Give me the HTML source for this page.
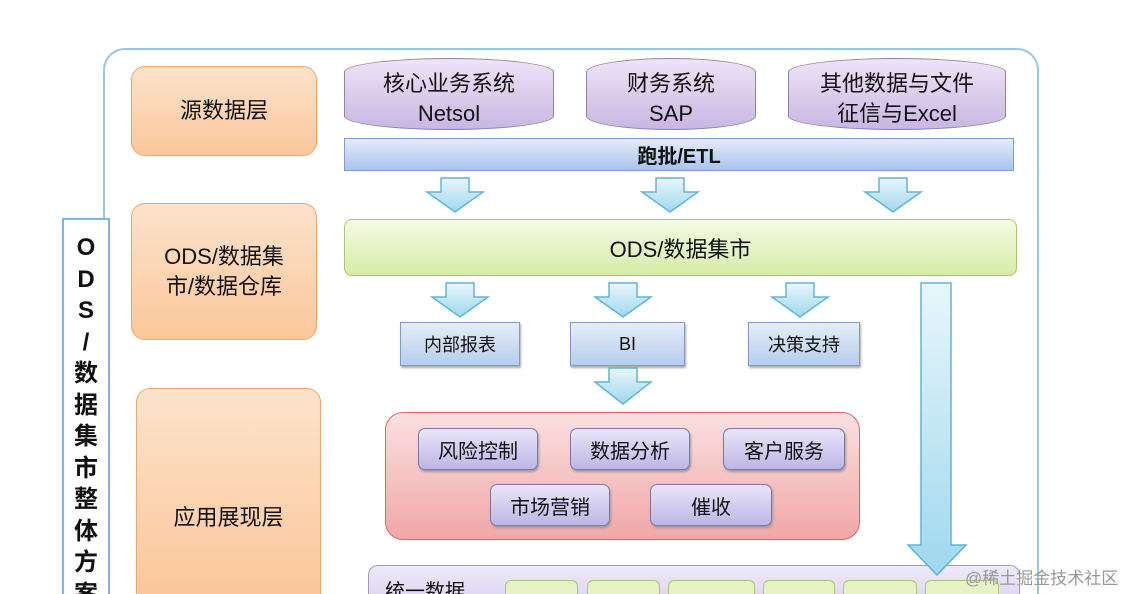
<!DOCTYPE html>
<html style="width:1132px;height:594px;overflow:hidden"><head><meta charset="utf-8"><style>
body{margin:0;width:1132px;height:594px;overflow:hidden;background:#fff;position:relative;font-family:"Liberation Sans","Noto Sans CJK SC",sans-serif;}
.a{position:absolute;box-sizing:border-box;display:flex;align-items:center;justify-content:center;text-align:center;color:#111;}
.lay{border:1.5px solid #f0a868;border-radius:14px;background:linear-gradient(#fde3cc,#fbc79a);font-size:22px;line-height:1.35}
.cyl{background:linear-gradient(#efe4f8,#c9b6e2);border:1.5px solid #8e84a6;border-radius:50%/14px;font-size:22px;line-height:1.35;padding-top:10px}
.btn{background:linear-gradient(#e9e6fa,#bdb6e6);border:1.5px solid #7d78a6;border-radius:7px;font-size:20px;box-shadow:1px 2px 2px #999}
.box{background:linear-gradient(#e6eef9,#b6cdec);border:1.5px solid #7d9cc8;font-size:18px;box-shadow:1px 2px 2px #aaa}
.clip{position:absolute;left:0;top:0;width:1132px;height:594px;overflow:hidden}
.g{position:absolute;top:580px;height:16px;background:#e6f1c4;border:1px solid #a8c870;border-bottom:none;border-radius:6px 6px 0 0;box-sizing:border-box}
</style></head><body><div class="clip">
<div class="a" style="left:103px;top:48px;width:936px;height:548px;border:2px solid #9cc6e6;border-bottom:none;border-radius:22px 22px 0 0"></div>
<div style="position:absolute;left:62px;top:218px;width:48px;height:378px;box-sizing:border-box;border:2px solid #7fb6e0;border-bottom:none;background:#fff;text-align:center;font-size:24px;line-height:31.5px;font-weight:bold;padding-top:12px;color:#111">O<br>D<br>S<br>/<br>数<br>据<br>集<br>市<br>整<br>体<br>方<br>案</div>
<div class="a lay" style="left:131px;top:66px;width:186px;height:90px">源数据层</div>
<div class="a lay" style="left:131px;top:203px;width:186px;height:137px">ODS/数据集<br>市/数据仓库</div>
<div class="a lay" style="left:136px;top:388px;width:185px;height:208px;border-bottom:none;border-radius:14px 14px 0 0;padding-top:50px">应用展现层</div>
<div class="a cyl" style="left:344px;top:58px;width:210px;height:72px">核心业务系统<br>Netsol</div>
<div class="a cyl" style="left:586px;top:58px;width:170px;height:72px">财务系统<br>SAP</div>
<div class="a cyl" style="left:788px;top:58px;width:218px;height:72px">其他数据与文件<br>征信与Excel</div>
<div class="a" style="left:344px;top:138px;width:670px;height:33px;background:linear-gradient(#e4ecfa,#a9c3ec);border:1.5px solid #7f9fd2;font-size:20px;font-weight:bold">跑批/ETL</div>
<div class="a" style="left:344px;top:219px;width:673px;height:57px;border-radius:8px;background:linear-gradient(#f5fbe4,#d6eca6);border:1.5px solid #a8c870;font-size:22px">ODS/数据集市</div>
<div class="a box" style="left:400px;top:322px;width:120px;height:44px">内部报表</div>
<div class="a box" style="left:570px;top:322px;width:115px;height:44px">BI</div>
<div class="a box" style="left:748px;top:322px;width:112px;height:44px">决策支持</div>
<div class="a" style="left:385px;top:412px;width:475px;height:128px;border-radius:18px;background:linear-gradient(#fbe0e0,#f1a7a7);border:1.5px solid #d86868"></div>
<div class="a btn" style="left:418px;top:428px;width:120px;height:42px">风险控制</div>
<div class="a btn" style="left:570px;top:428px;width:120px;height:42px">数据分析</div>
<div class="a btn" style="left:723px;top:428px;width:122px;height:42px">客户服务</div>
<div class="a btn" style="left:490px;top:484px;width:120px;height:42px">市场营销</div>
<div class="a btn" style="left:650px;top:484px;width:122px;height:42px">催收</div>
<div class="a" style="left:368px;top:565px;width:652px;height:31px;border-radius:10px 10px 0 0;background:linear-gradient(#eeeaf8,#e0d8f2);border:1.5px solid #a09ac0;border-bottom:none;justify-content:flex-start;align-items:flex-start;padding:14px 0 0 16px;font-size:20px;line-height:24px;overflow:hidden">统一数据</div>
<div class="g" style="left:505px;width:73px"></div>
<div class="g" style="left:587px;width:73px"></div>
<div class="g" style="left:668px;width:87px"></div>
<div class="g" style="left:763px;width:72px"></div>
<div class="g" style="left:843px;width:74px"></div>
<div class="g" style="left:925px;width:74px"></div>
<svg class="a" style="left:0;top:0" width="1132" height="594">
<defs><linearGradient id="g" x1="0" y1="0" x2="0" y2="1"><stop offset="0" stop-color="#e8f6fc"/><stop offset="1" stop-color="#9fd8ee"/></linearGradient></defs>
<g fill="url(#g)" stroke="#62b4d6" stroke-width="1.5">
<path d="M441 178h28v14h14l-28 20l-28-20h14z"/>
<path d="M656 178h28v14h14l-28 20l-28-20h14z"/>
<path d="M879 178h28v14h14l-28 20l-28-20h14z"/>
<path d="M446 283h28v14h14l-28 20l-28-20h14z"/>
<path d="M609 283h28v14h14l-28 20l-28-20h14z"/>
<path d="M786 283h28v14h14l-28 20l-28-20h14z"/>
<path d="M609 368h28v14h14l-28 22l-28-22h14z"/>
<path d="M921 283h30v262h15l-29 30l-29-30h13z"/>
</g>
<text x="965" y="584" font-size="17" fill="#999" font-family="Liberation Sans,Noto Sans CJK SC,sans-serif">@稀土掘金技术社区</text>
</svg>
</div></body></html>
